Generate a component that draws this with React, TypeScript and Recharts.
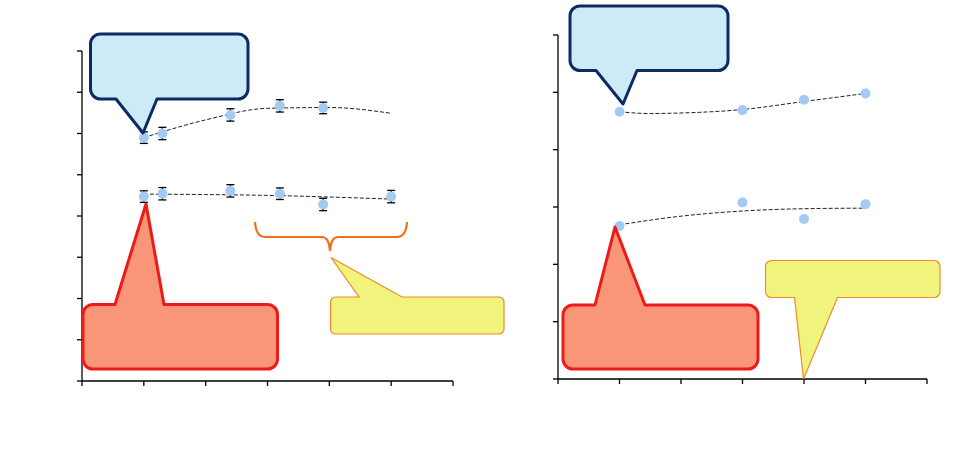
import {
  ComposedChart,
  ErrorBar,
  Line,
  Scatter,
  XAxis,
  YAxis,
} from "recharts"

// left panel: two series with error bars + trend lines
const LEFT_X_TICKS = [0, 1, 2, 3, 4, 5, 6]
const LEFT_Y_TICKS = [0, 1, 2, 3, 4, 5, 6, 7, 8]

const leftUpperX = [1, 1.3, 2.4, 3.2, 3.9]
const leftUpperY = [5.9, 6.0, 6.45, 6.67, 6.62]
const leftUpperErr = [0.14, 0.15, 0.15, 0.15, 0.14]

const leftLowerX = [1, 1.3, 2.4, 3.2, 3.9, 5]
const leftLowerY = [4.47, 4.54, 4.61, 4.54, 4.28, 4.47]
const leftLowerErr = [0.14, 0.15, 0.15, 0.14, 0.15, 0.15]

const leftUpperTrendX = [1, 2, 3, 4, 5]
const leftUpperTrendY = [5.9, 6.33, 6.61, 6.63, 6.49]
const leftLowerTrendX = [1, 2, 3, 4, 5]
const leftLowerTrendY = [4.53, 4.52, 4.5, 4.46, 4.41]

// right panel: two series, no error bars
const RIGHT_X_TICKS = [0, 1, 2, 3, 4, 5, 6]
const RIGHT_Y_TICKS = [0, 1, 2, 3, 4, 5, 6]

const rightUpperX = [1, 3, 4, 5]
const rightUpperY = [4.66, 4.69, 4.87, 4.98]
const rightLowerX = [1, 3, 4, 5]
const rightLowerY = [2.67, 3.08, 2.79, 3.05]

const rightUpperTrendX = [1, 1.5, 2, 3, 4, 5]
const rightUpperTrendY = [4.66, 4.63, 4.64, 4.7, 4.84, 4.98]
const rightLowerTrendX = [1, 2, 3, 4, 5]
const rightLowerTrendY = [2.69, 2.84, 2.93, 2.97, 2.98]

const zip = (xs: number[], ys: number[], errs?: number[]) =>
  xs.map((x, i) => ({ x, y: ys[i], err: errs ? errs[i] : 0 }))

const POINT = "#a3caf3"

const dot = (p: any) => <circle cx={p.cx} cy={p.cy} r={5} fill={POINT} />
const noDot = () => <g />

// rounded box with a pointer on its top or bottom edge
function callout(
  x1: number,
  y1: number,
  x2: number,
  y2: number,
  r: number,
  side: "top" | "bottom",
  a: number,
  b: number,
  tx: number,
  ty: number,
) {
  const top =
    side === "top"
      ? `H${a} L${tx},${ty} L${b},${y1} H${x2 - r}`
      : `H${x2 - r}`
  const bottom =
    side === "bottom"
      ? `H${b} L${tx},${ty} L${a},${y2} H${x1 + r}`
      : `H${x1 + r}`
  return (
    `M${x1 + r},${y1} ${top} A${r},${r} 0 0 1 ${x2},${y1 + r} V${y2 - r} ` +
    `A${r},${r} 0 0 1 ${x2 - r},${y2} ${bottom} A${r},${r} 0 0 1 ${x1},${y2 - r} ` +
    `V${y1 + r} A${r},${r} 0 0 1 ${x1 + r},${y1} Z`
  )
}

const axisProps = {
  stroke: "#000",
  strokeWidth: 1.3,
  tickFormatter: () => "",
  tickSize: 5,
  allowDataOverflow: true,
}

function LeftChart() {
  return (
    <ComposedChart
      width={480}
      height={462}
      margin={{ top: 51, right: 27, bottom: 80, left: 81 }}
    >
      <XAxis
        {...axisProps}
        dataKey="x"
        type="number"
        domain={[0, 6]}
        ticks={LEFT_X_TICKS}
        height={1}
      />
      <YAxis
        {...axisProps}
        dataKey="y"
        type="number"
        domain={[0, 8]}
        ticks={LEFT_Y_TICKS}
        width={1}
      />
      <Line
        data={zip(leftUpperTrendX, leftUpperTrendY)}
        dataKey="y"
        type="monotone"
        stroke="#222"
        strokeWidth={1}
        strokeDasharray="4 2"
        dot={false}
        isAnimationActive={false}
      />
      <Line
        data={zip(leftLowerTrendX, leftLowerTrendY)}
        dataKey="y"
        type="monotone"
        stroke="#222"
        strokeWidth={1}
        strokeDasharray="4 2"
        dot={false}
        isAnimationActive={false}
      />
      <Scatter
        data={zip(leftUpperX, leftUpperY, leftUpperErr)}
        dataKey="y"
        shape={dot}
        isAnimationActive={false}
      />
      <Scatter
        data={zip(leftLowerX, leftLowerY, leftLowerErr)}
        dataKey="y"
        shape={dot}
        isAnimationActive={false}
      />
      <Scatter
        data={zip(leftUpperX, leftUpperY, leftUpperErr)}
        dataKey="y"
        shape={noDot}
        isAnimationActive={false}
      >
        <ErrorBar dataKey="err" direction="y" width={4} stroke="#000" strokeWidth={1.3} />
      </Scatter>
      <Scatter
        data={zip(leftLowerX, leftLowerY, leftLowerErr)}
        dataKey="y"
        shape={noDot}
        isAnimationActive={false}
      >
        <ErrorBar dataKey="err" direction="y" width={4} stroke="#000" strokeWidth={1.3} />
      </Scatter>
    </ComposedChart>
  )
}

function RightChart() {
  return (
    <ComposedChart
      width={480}
      height={462}
      margin={{ top: 35, right: 33, bottom: 82, left: 77 }}
    >
      <XAxis
        {...axisProps}
        dataKey="x"
        type="number"
        domain={[0, 6]}
        ticks={RIGHT_X_TICKS}
        height={1}
      />
      <YAxis
        {...axisProps}
        dataKey="y"
        type="number"
        domain={[0, 6]}
        ticks={RIGHT_Y_TICKS}
        width={1}
      />
      <Line
        data={zip(rightUpperTrendX, rightUpperTrendY)}
        dataKey="y"
        type="monotone"
        stroke="#222"
        strokeWidth={1}
        strokeDasharray="4 2"
        dot={false}
        isAnimationActive={false}
      />
      <Line
        data={zip(rightLowerTrendX, rightLowerTrendY)}
        dataKey="y"
        type="monotone"
        stroke="#222"
        strokeWidth={1}
        strokeDasharray="4 2"
        dot={false}
        isAnimationActive={false}
      />
      <Scatter
        data={zip(rightUpperX, rightUpperY)}
        dataKey="y"
        shape={dot}
        isAnimationActive={false}
      />
      <Scatter
        data={zip(rightLowerX, rightLowerY)}
        dataKey="y"
        shape={dot}
        isAnimationActive={false}
      />
    </ComposedChart>
  )
}

const BLUE_FILL = "#cdebf6"
const BLUE_LINE = "#0d2a62"
const RED_FILL = "#f99677"
const RED_LINE = "#ee1a1a"
const YEL_FILL = "#f0f47c"
const YEL_LINE = "#f08a2c"

function Callouts() {
  return (
    <svg
      width={960}
      height={462}
      style={{ position: "absolute", left: 0, top: 0, pointerEvents: "none" }}
    >
      {/* left panel */}
      <path
        d={callout(90.5, 34, 248, 99, 10, "bottom", 116, 157, 143, 133)}
        fill={BLUE_FILL}
        stroke={BLUE_LINE}
        strokeWidth={3}
        strokeLinejoin="round"
      />
      <path
        d={callout(83, 304.5, 277.5, 369, 10, "top", 115, 164, 146, 204)}
        fill={RED_FILL}
        stroke={RED_LINE}
        strokeWidth={3}
        strokeLinejoin="round"
      />
      <path
        d={callout(330.5, 297, 504, 334, 5, "top", 359, 402, 331, 257.5)}
        fill={YEL_FILL}
        stroke={YEL_LINE}
        strokeWidth={1.2}
      />
      <path
        d="M255,222 Q256,237 265,237 H322 Q329,237 330,251 Q331,237 338,237 H397 Q406,237 407,222"
        fill="none"
        stroke="#f2701c"
        strokeWidth={2.2}
      />
      {/* right panel */}
      <path
        d={callout(570, 6, 728, 70.5, 10, "bottom", 596, 637, 623, 104)}
        fill={BLUE_FILL}
        stroke={BLUE_LINE}
        strokeWidth={3}
        strokeLinejoin="round"
      />
      <path
        d={callout(563, 305, 758, 369, 10, "top", 595, 645, 615, 227)}
        fill={RED_FILL}
        stroke={RED_LINE}
        strokeWidth={3}
        strokeLinejoin="round"
      />
      <path
        d={callout(765.5, 260.5, 940, 297.5, 6, "bottom", 794.5, 837.5, 803.5, 379)}
        fill={YEL_FILL}
        stroke={YEL_LINE}
        strokeWidth={1.2}
      />
    </svg>
  )
}

export default function App() {
  return (
    <div
      style={{
        position: "absolute",
        left: 0,
        top: 0,
        width: 960,
        height: 462,
        background: "#fff",
      }}
    >
      <div style={{ position: "absolute", left: 0, top: 0 }}>
        <LeftChart />
      </div>
      <div style={{ position: "absolute", left: 480, top: 0 }}>
        <RightChart />
      </div>
      <Callouts />
    </div>
  )
}
